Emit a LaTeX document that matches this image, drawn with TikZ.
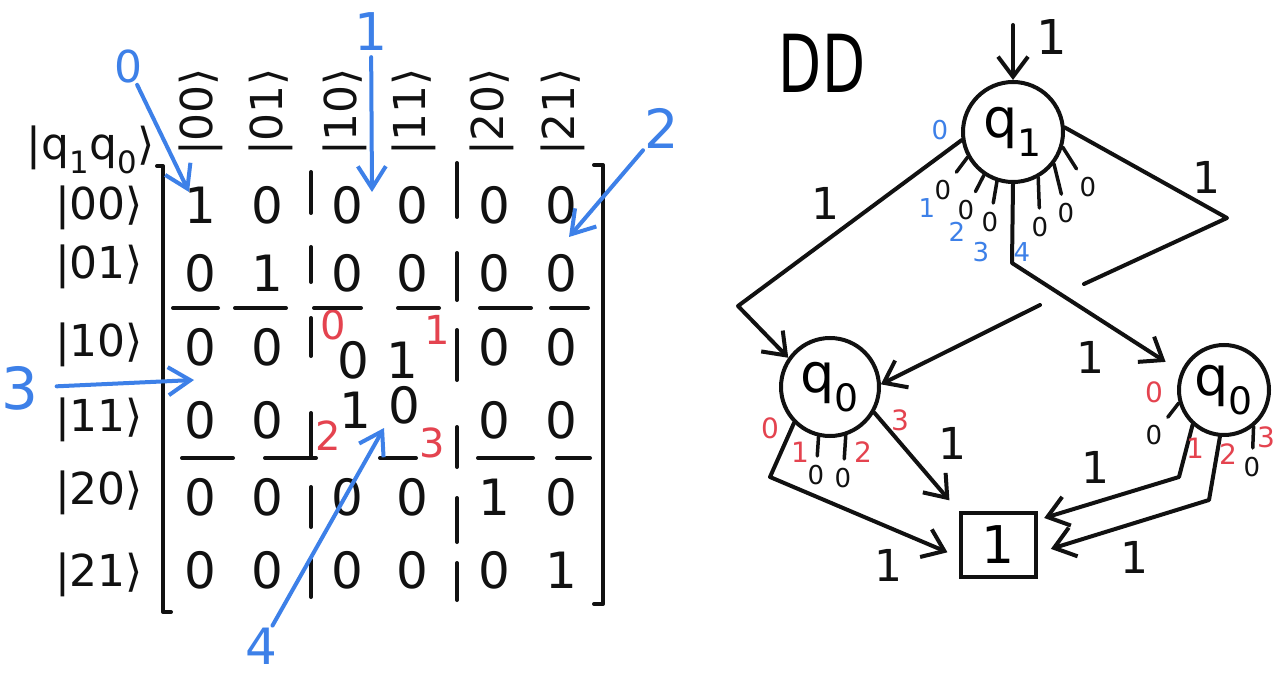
\documentclass[tikz,border=0pt]{standalone}
\usepackage{fontspec}
\setmainfont{DejaVu Sans}
\usetikzlibrary{arrows.meta,positioning}
\definecolor{ddblack}{HTML}{111111}
\definecolor{ddblue}{HTML}{3D80E8}
\definecolor{ddred}{HTML}{E4434F}
\newcommand{\fsz}[1]{\fontsize{#1}{#1}\selectfont}
\newcommand{\kt}[1]{|#1⟩}
\tikzset{
  ent/.style  = {font=\fsz{44}, text=ddblack, inner sep=1pt},
  val/.style  = {font=\fsz{50}, text=ddblack, inner sep=1pt},
  rnum/.style = {font=\fsz{40}, text=ddred, inner sep=1pt},
  rsm/.style  = {font=\fsz{28}, text=ddred, inner sep=1pt},
  bnum/.style = {font=\fsz{54}, text=ddblue, inner sep=2pt},
  bsm/.style  = {font=\fsz{26}, text=ddblue, inner sep=1pt},
  zr/.style   = {font=\fsz{26}, text=ddblack, inner sep=3pt},
  lbl/.style  = {font=\fsz{44}, text=ddblack, inner sep=1pt},
  st/.style   = {circle, draw=ddblack, line width=4pt, font=\fsz{54},
                 inner sep=0pt},
  term/.style = {rectangle, draw=ddblack, line width=4pt, minimum width=75pt,
                 minimum height=64pt, font=\fsz{52}, inner sep=0pt},
  ln/.style   = {draw=ddblack, line width=4pt, line cap=round, line join=round},
  stub/.style = {ln, line width=3.5pt, shorten >=6pt},
  ed/.style   = {ln, -{Straight Barb[length=20pt,width=30pt]}},
  bl/.style   = {draw=ddblue, line width=4pt, line cap=round,
                 -{Straight Barb[length=22pt,width=28pt]}},
}

\begin{document}
\begin{tikzpicture}[x=1pt,y=-1pt]
  \path[use as bounding box, fill=white] (0,0) rectangle (1280,679);

  \node[ent] (hdr) at (91,150) {|q\textsubscript{1}q\textsubscript{0}⟩};
  \foreach \x/\k/\c in {201/00/1,271/01/2,345/10/3,414/11/4,492/20/5,563/21/6}
    \node[ent, rotate=90] (c\c) at (\x,112) {\kt{\k}};
  \foreach \y/\k/\r in {208/00/1,267/01/2,345/10/3,420/11/4,493/20/5,575/21/6}
    \node[ent] (r\r) at (99,\y) {\kt{\k}};

  \foreach \x/\v/\c in {200/1/1,267/0/2,347/0/3,412/0/4,494/0/5,561/0/6}
    \node[val] (m1\c) at (\x,205) {\v};
  \foreach \x/\v/\c in {200/0/1,267/1/2,347/0/3,412/0/4,494/0/5,561/0/6}
    \node[val] (m2\c) at (\x,273) {\v};
  \foreach \x/\v/\c in {200/0/1,267/0/2,494/0/5,561/0/6}
    \node[val] (m3\c) at (\x,347) {\v};
  \foreach \x/\v/\c in {200/0/1,267/0/2,494/0/5,561/0/6}
    \node[val] (m4\c) at (\x,420) {\v};
  \foreach \x/\v/\c in {200/0/1,267/0/2,347/0/3,412/0/4,494/1/5,561/0/6}
    \node[val] (m5\c) at (\x,497) {\v};
  \foreach \x/\v/\c in {200/0/1,267/0/2,347/0/3,412/0/4,494/0/5,561/1/6}
    \node[val] (m6\c) at (\x,570) {\v};
  \node[val] (m33) at (353,360) {0};
  \node[val] (m34) at (402,360) {1};
  \node[val] (m43) at (355,410) {1};
  \node[val] (m44) at (404,405) {0};
  \node[rnum] (p0) at (333,325) {0};
  \node[rnum] (p1) at (437,330) {1};
  \node[rnum] (p2) at (328,436) {2};
  \node[rnum] (p3) at (432,443) {3};

  \draw[ln] (157,166) -- (163,166) -- (163,612) -- (171,612);
  \draw[ln] (594,165) -- (603,165) -- (603,604) -- (594,604);
  \foreach \a/\b in {173/218,235/286,314/361,398/439,480/531,551/588}
    \draw[ln] (\a,308) -- (\b,308);
  \foreach \a/\b in {182/233,265/316,380/416,478/533,557/590}
    \draw[ln] (\a,458) -- (\b,458);
  \foreach \a/\b in {172/213,247/282,318/356,413/457,487/527,560/597}
    \draw[ln] (311,\a) -- (311,\b);
  \foreach \a/\b in {163/217,253/300,330/380,427/467,498/542,563/600}
    \draw[ln] (457,\a) -- (457,\b);

  \node[bnum, font=\fsz{44}] (n0) at (128,66) {0};
  \node[bnum, font=\fsz{52}] (n1) at (371,32) {1};
  \node[bnum] (n2) at (662,128) {2};
  \node[bnum, font=\fsz{58}] (n3) at (20,388) {3};
  \node[bnum, font=\fsz{50}] (n4) at (261,646) {4};
  \coordinate (t0) at (189,192);
  \coordinate (t1) at (372,192);
  \coordinate (t2) at (569,237);
  \coordinate (t3) at (194,380);
  \coordinate (t4) at (384,428);
  \draw[bl] (n0) -- (t0);
  \draw[bl, shorten <=4pt] (n1) -- (t1);
  \draw[bl] (n2) -- (t2);
  \draw[bl, shorten <=16pt] (n3) -- (t3);
  \draw[bl] (n4) -- (t4);

  \node[font=\fsz{80}] (dd) at (822,63) {\scalebox{0.7}[1]{DD}};
  \node[st, minimum size=100pt] (q1)  at (1013,132) {q\textsubscript{1}};
  \node[st, minimum size=98pt]  (q0l) at (830,387)  {q\textsubscript{0}};
  \node[st, minimum size=90pt]  (q0r) at (1224,390) {q\textsubscript{0}};
  \node[term] (one) at (998,545) {1};

  \coordinate (top) at (1013,25);
  \draw[ed] (top) -- (q1);
  \node[lbl, font=\fsz{48}] (l0) at (1052,37) {1};

  \coordinate (a1) at (738,306);
  \draw[ed] (q1.189) -- (a1) -- (q0l.145);
  \node[lbl] (l1) at (825,203) {1};
  \coordinate (a2) at (1227,218);
  \coordinate (a3) at (1084,284);
  \coordinate (a4) at (1040,305);
  \draw[ln] (q1.5) -- (a2) -- (a3);
  \draw[ed] (a4) -- (q0l.3);
  \node[lbl] (l2) at (1206,177) {1};
  \coordinate (a5) at (1012,263);
  \draw[ed, shorten >=18pt] (q1.south) -- (a5) -- (q0r.157);
  \node[lbl] (l3) at (1090,357) {1};

  \node[zr] (z1) at (943,190) {0};
  \node[zr] (z2) at (966,210) {0};
  \node[zr] (z3) at (990,222) {0};
  \node[zr] (z4) at (1040,227) {0};
  \node[zr] (z5) at (1066,213) {0};
  \node[zr] (z6) at (1088,187) {0};
  \draw[stub] (q1.209) -- (z1);
  \draw[stub] (q1.236) -- (z2);
  \draw[stub] (q1.252) -- (z3);
  \draw[stub] (q1.299) -- (z4);
  \draw[stub] (q1.322) -- (z5);
  \draw[stub] (q1.343) -- (z6);
  \node[bsm] (i0) at (940,130) {0};
  \node[bsm] (i1) at (927,208) {1};
  \node[bsm] (i2) at (957,232) {2};
  \node[bsm] (i3) at (981,252) {3};
  \node[bsm] (i4) at (1022,252) {4};

  \coordinate (a6) at (770,477);
  \draw[ed, shorten >=12pt] (q0l.225) -- (a6) -- ([yshift=-12pt]one.west);
  \node[lbl] (l4) at (888,565) {1};
  \node[zr] (z7) at (816,475) {0};
  \node[zr] (z8) at (843,478) {0};
  \draw[stub] (q0l.257) -- (z7);
  \draw[stub] (q0l.288) -- (z8);
  \draw[ed, shorten >=14pt] (q0l.-30) -- (one.north west);
  \node[lbl] (l5) at (952,443) {1};
  \node[rsm] (s0) at (770,428) {0};
  \node[rsm] (s1) at (800,452) {1};
  \node[rsm] (s2) at (863,452) {2};
  \node[rsm] (s3) at (900,420) {3};

  \node[zr] (z9) at (1154,435) {0};
  \draw[stub] (q0r.196) -- (z9);
  \coordinate (a7) at (1179,477);
  \draw[ed, shorten >=7pt] (q0r.228) -- (a7) -- ([yshift=25pt]one.east);
  \node[lbl] (l6) at (1095,467) {1};
  \coordinate (a8) at (1209,500);
  \draw[ed, shorten >=14pt] (q0r.265) -- (a8) -- ([yshift=-8pt]one.east);
  \node[lbl] (l7) at (1134,557) {1};
  \node[zr] (z10) at (1252,467) {0};
  \draw[stub] (q0r.309) -- (z10);
  \node[rsm] (u0) at (1154,392) {0};
  \node[rsm] (u1) at (1195,448) {1};
  \node[rsm] (u2) at (1228,454) {2};
  \node[rsm] (u3) at (1266,437) {3};
\end{tikzpicture}
\end{document}
